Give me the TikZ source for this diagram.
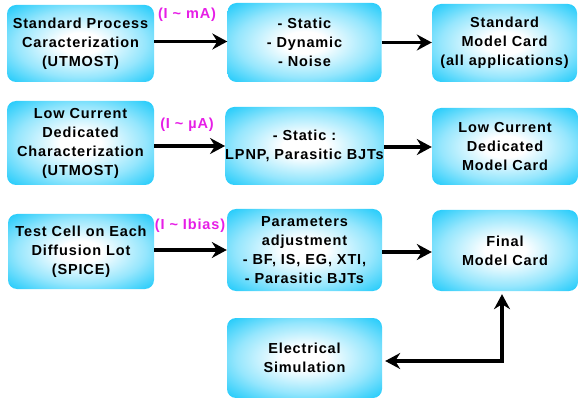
\documentclass[tikz,border=0pt]{standalone}
\usepackage{fontspec}
\setmainfont{Liberation Sans}[LetterSpace=6]
\usetikzlibrary{arrows.meta}
\definecolor{boxcyan}{RGB}{22,200,250}
\definecolor{flowmag}{RGB}{230,30,230}
% white glow in the middle of each box, fading to cyan at the rim
\pgfdeclareradialshading{boxglow}{\pgfpoint{0bp}{0bp}}{%
  color(0bp)=(white); color(7bp)=(white);
  color(22bp)=(boxcyan!45!white); color(36bp)=(boxcyan); color(50bp)=(boxcyan)}
\tikzset{
  stage/.style={shading=boxglow, rounded corners=9pt, align=center,
    inner sep=0pt, font=\bfseries\fontsize{14.5}{19}\selectfont},
  cur/.style={text=flowmag, font=\bfseries\fontsize{14.5}{17}\selectfont, inner sep=0pt},
  flow/.style={line width=3.3pt, -{Stealth[length=15pt,width=16pt,inset=5pt]}},
  loop/.style={line width=3.3pt, {Stealth[length=15pt,width=16pt,inset=5pt]}-{Stealth[length=15pt,width=16pt,inset=5pt]}},
}
\begin{document}
\begin{tikzpicture}[x=1pt,y=-1pt]
\useasboundingbox (0,0) rectangle (578,398);

% row 1: standard characterization
\node[stage, minimum width=147pt, minimum height=77pt] (A1) at (80.5,43.5)
  {Standard Process\\Caracterization\\(UTMOST)};
\node[stage, minimum width=154pt, minimum height=79pt] (A2) at (304.5,42.5)
  {- Static\\- Dynamic\\- Noise};
\node[stage, minimum width=145pt, minimum height=78pt] (A3) at (504.5,43)
  {Standard\\Model Card\\(all applications)};

% row 2: low current characterization
\node[stage, minimum width=147pt, minimum height=84pt] (B1) at (80.5,143)
  {Low Current\\Dedicated\\Characterization\\(UTMOST)};
\node[stage, minimum width=155pt, minimum height=78pt] (B2) at (304.5,146)
  {- Static :\\LPNP, Parasitic BJTs};
\node[stage, minimum width=146pt, minimum height=77pt] (B3) at (505,146.5)
  {Low Current\\Dedicated\\Model Card};

% row 3: per-lot test cell
\node[stage, minimum width=146pt, minimum height=75pt] (C1) at (81,251.5)
  {Test Cell on Each\\Diffusion Lot\\(SPICE)};
\node[stage, minimum width=155pt, minimum height=82pt] (C2) at (304.5,250)
  {Parameters\\adjustment\\- BF, IS, EG, XTI,\\- Parasitic BJTs};
\node[stage, minimum width=146pt, minimum height=81pt] (C3) at (505,250.5)
  {Final\\Model Card};

% simulation
\node[stage, minimum width=155pt, minimum height=80pt] (D) at (304.5,358)
  {Electrical\\Simulation};

% current ranges
\node[cur] (LA) at (187,15) {(I \textasciitilde{} mA)};
\node[cur] (LB) at (187,125) {(I \textasciitilde{} µA)};
\node[cur] (LC) at (190,226) {(I \textasciitilde{} Ibias)};

% connectors
\draw[flow] ([yshift=2pt]A1.east) -- ([yshift=2pt]A1.east -| A2.west);
\draw[flow] (A2.east) -- (A2.east -| A3.west);
\draw[flow] (B2.west -| B1.east) -- (B2.west);
\draw[flow] ([yshift=-1pt]B2.east) -- ([yshift=-1pt]B2.east -| B3.west);
\draw[flow] (C2.west -| C1.east) -- (C2.west);
\draw[flow] ([yshift=-2pt]C2.east) -- ([yshift=-2pt]C2.east -| C3.west);
\draw[loop, shorten <=3pt, shorten >=3pt] ([yshift=-3pt]D.east) -| ([xshift=-3pt]C3.south);
\end{tikzpicture}
\end{document}
